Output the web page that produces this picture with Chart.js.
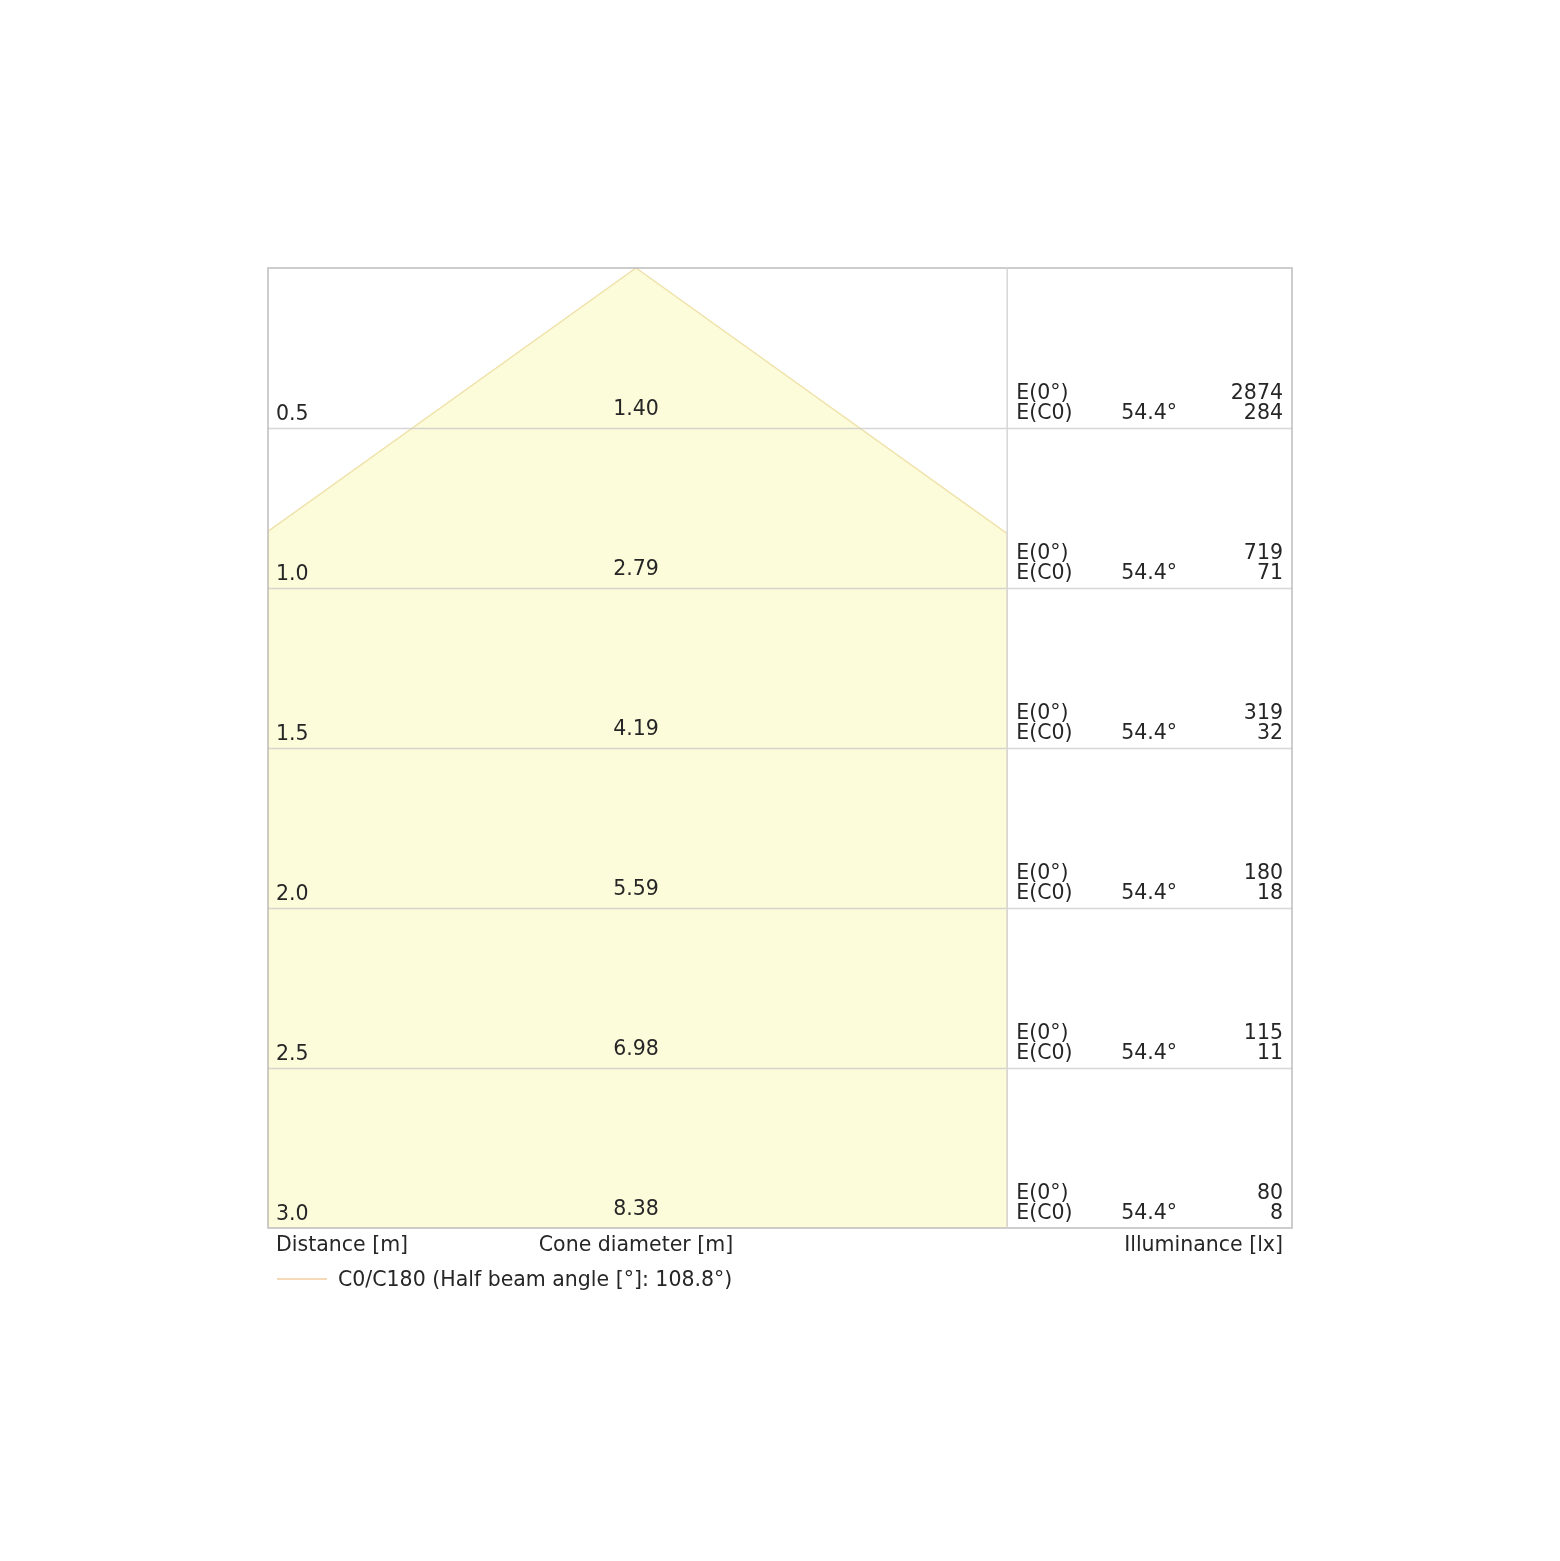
<!DOCTYPE html>
<html>
<head>
<meta charset="utf-8">
<script src="https://cdn.jsdelivr.net/npm/chart.js@4"></script>
<style>
  html,body{margin:0;padding:0;background:#fff;}
  #wrap{width:1560px;height:1561px;}
</style>
</head>
<body>
<div id="wrap"><canvas id="cone"></canvas></div>
<script>
// cone diagram data
const distances = [0.5, 1.0, 1.5, 2.0, 2.5, 3.0];
const diameters = ['1.40', '2.79', '4.19', '5.59', '6.98', '8.38'];
const eCenter = [2874, 719, 319, 180, 115, 80];
const eC0 = [284, 71, 32, 18, 11, 8];
const halfAngle = 54.4;
const beamAngle = 108.8;
const coneLeft = -1.15;
const coneRight = 1.16;   // also the divider to the table

const FONT = '20.5px "DejaVu Sans", sans-serif';
const TXT = '#262626';

const tanA = Math.tan(halfAngle * Math.PI / 180);
const maxD = distances[distances.length - 1];
const conePts = [
  {x: coneLeft, y: maxD},
  {x: coneLeft, y: -coneLeft / tanA},
  {x: 0, y: 0},
  {x: coneRight, y: coneRight / tanA},
  {x: coneRight, y: maxD}
];

const tablePlugin = {
  id: 'tableText',
  afterDatasetsDraw(chart){
    const ctx = chart.ctx, a = chart.chartArea;
    const xs = chart.scales.x, ys = chart.scales.y;
    const divX = xs.getPixelForValue(coneRight);
    const midX = xs.getPixelForValue(0);
    ctx.save();
    // row lines over the cone
    ctx.lineWidth = 1.5;
    distances.slice(0, -1).forEach(d => {
      const y = Math.round(ys.getPixelForValue(d)) + 0.5;
      ctx.strokeStyle = 'rgba(200,200,200,0.75)';
      ctx.beginPath();
      ctx.moveTo(a.left, y); ctx.lineTo(a.right, y);
      ctx.stroke();
    });
    // frame + divider
    ctx.strokeStyle = '#bdbdbd';
    ctx.strokeRect(a.left, a.top, a.right - a.left, a.bottom - a.top);
    ctx.beginPath();
    ctx.moveTo(divX, a.top); ctx.lineTo(divX, a.bottom);
    ctx.strokeStyle = '#d6d6d6';
    ctx.stroke();

    ctx.font = FONT;
    ctx.fillStyle = TXT;
    ctx.textBaseline = 'alphabetic';
    distances.forEach((d, i) => {
      const y = ys.getPixelForValue(d);
      ctx.textAlign = 'left';
      ctx.fillText(d.toFixed(1), a.left + 8, y - 8);
      ctx.textAlign = 'center';
      ctx.fillText(diameters[i], midX, y - 13);
      ctx.textAlign = 'left';
      ctx.fillText('E(0°)', divX + 9, y - 29);
      ctx.fillText('E(C0)', divX + 9, y - 9);
      ctx.fillText(halfAngle.toFixed(1) + '°', divX + 114, y - 9);
      ctx.textAlign = 'right';
      ctx.fillText(String(eCenter[i]), a.right - 9, y - 29);
      ctx.fillText(String(eC0[i]), a.right - 9, y - 9);
    });

    // axis captions
    const capY = a.bottom + 23;
    ctx.textAlign = 'left';
    ctx.fillText('Distance [m]', a.left + 8, capY);
    ctx.textAlign = 'center';
    ctx.fillText('Cone diameter [m]', midX, capY);
    ctx.textAlign = 'right';
    ctx.fillText('Illuminance [lx]', a.right - 9, capY);

    // legend
    const lgY = a.bottom + 51;
    ctx.strokeStyle = '#f6d9b8';
    ctx.lineWidth = 2;
    ctx.beginPath();
    ctx.moveTo(a.left + 9, lgY); ctx.lineTo(a.left + 59, lgY);
    ctx.stroke();
    ctx.textAlign = 'left';
    ctx.fillText('C0/C180 (Half beam angle [°]: ' + beamAngle.toFixed(1) + '°)', a.left + 70, lgY + 7);
    ctx.restore();
  }
};

new Chart(document.getElementById('cone').getContext('2d'), {
  type: 'scatter',
  data: {
    datasets: [{
      label: 'C0/C180',
      data: conePts,
      showLine: true,
      borderColor: '#efe2ab',
      borderWidth: 1.5,
      backgroundColor: 'rgba(253,252,218,1)',
      pointRadius: 0,
      fill: {value: maxD},
      tension: 0
    }]
  },
  options: {
    responsive: true,
    maintainAspectRatio: false,
    animation: false,
    layout: {padding: {left: 268, right: 268, top: 268, bottom: 333}},
    plugins: {legend: {display: false}, tooltip: {enabled: false}},
    scales: {
      x: {
        type: 'linear', min: -1.15, max: 2.05,
        ticks: {display: false},
        grid: {display: false},
        border: {display: false},
        afterFit: s => { s.height = 0; }
      },
      y: {
        type: 'linear', min: 0, max: maxD, reverse: true,
        ticks: {display: false},
        grid: {display: false},
        border: {display: false},
        afterFit: s => { s.width = 0; }
      }
    }
  },
  plugins: [tablePlugin]
});
</script>
</body>
</html>
